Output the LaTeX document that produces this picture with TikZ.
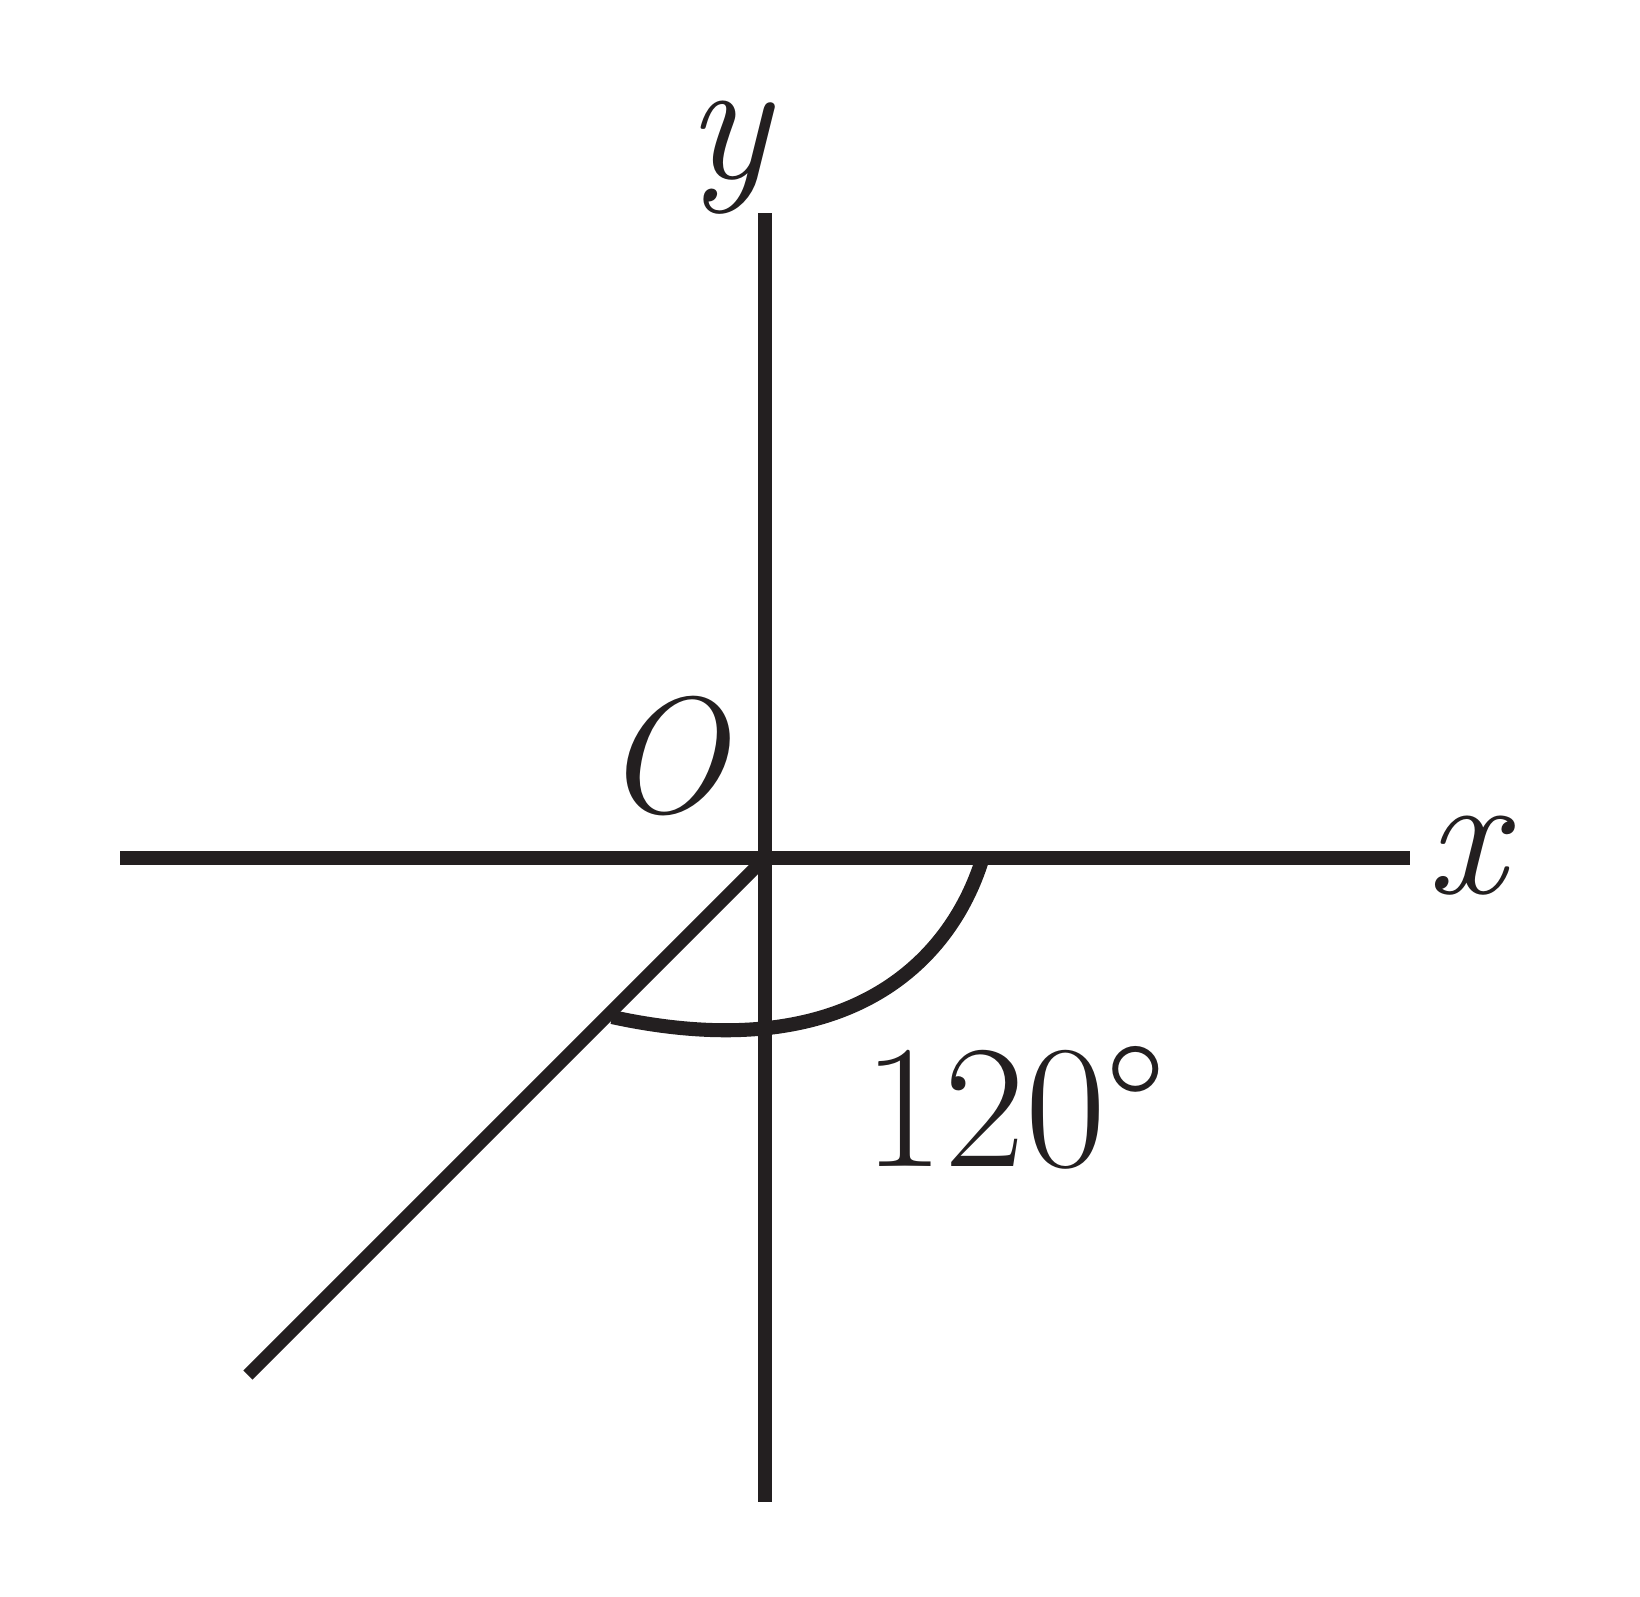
\documentclass[tikz,border=0pt]{standalone}
\usepackage{fontspec}
\definecolor{ink}{RGB}{35,31,32}
\begin{document}
\begin{tikzpicture}[x=0.01cm,y=-0.01cm,
  axisline/.style={line width=4.1pt, draw=ink, line cap=butt},
  diagline/.style={line width=3.7pt, draw=ink, line cap=butt},
  arcline/.style={line width=4pt, draw=ink, line cap=butt},
  lbl/.style={inner sep=0pt, anchor=base, text=ink, font=\fontsize{50}{60}\selectfont}]
\useasboundingbox (0,0) rectangle (1640,1596);
\coordinate (o) at (765,858);
\coordinate (xl) at (120,858);
\coordinate (xr) at (1410,858);
\coordinate (yt) at (765,213);
\coordinate (yb) at (765,1502);
\coordinate (dl) at (248,1375);
\coordinate (a0) at (982,860);
\coordinate (a1) at (612,1017);
\draw[axisline] (xl) -- (xr);
\draw[axisline] (yt) -- (yb);
\draw[diagline] (o) -- (dl);
\draw[arcline] (a0) .. controls (950,962) and (847,1068) .. (a1);
\node[lbl] (ylab) at (728,178) {\itshape y};
\node[lbl] (xlab) at (1466,893) {\itshape x};
\node[lbl, font=\fontsize{47}{56}\selectfont] (olab) at (664,812) {\itshape O};
\node[lbl] (ang) at (1015,1166) {120°};
\end{tikzpicture}
\end{document}
